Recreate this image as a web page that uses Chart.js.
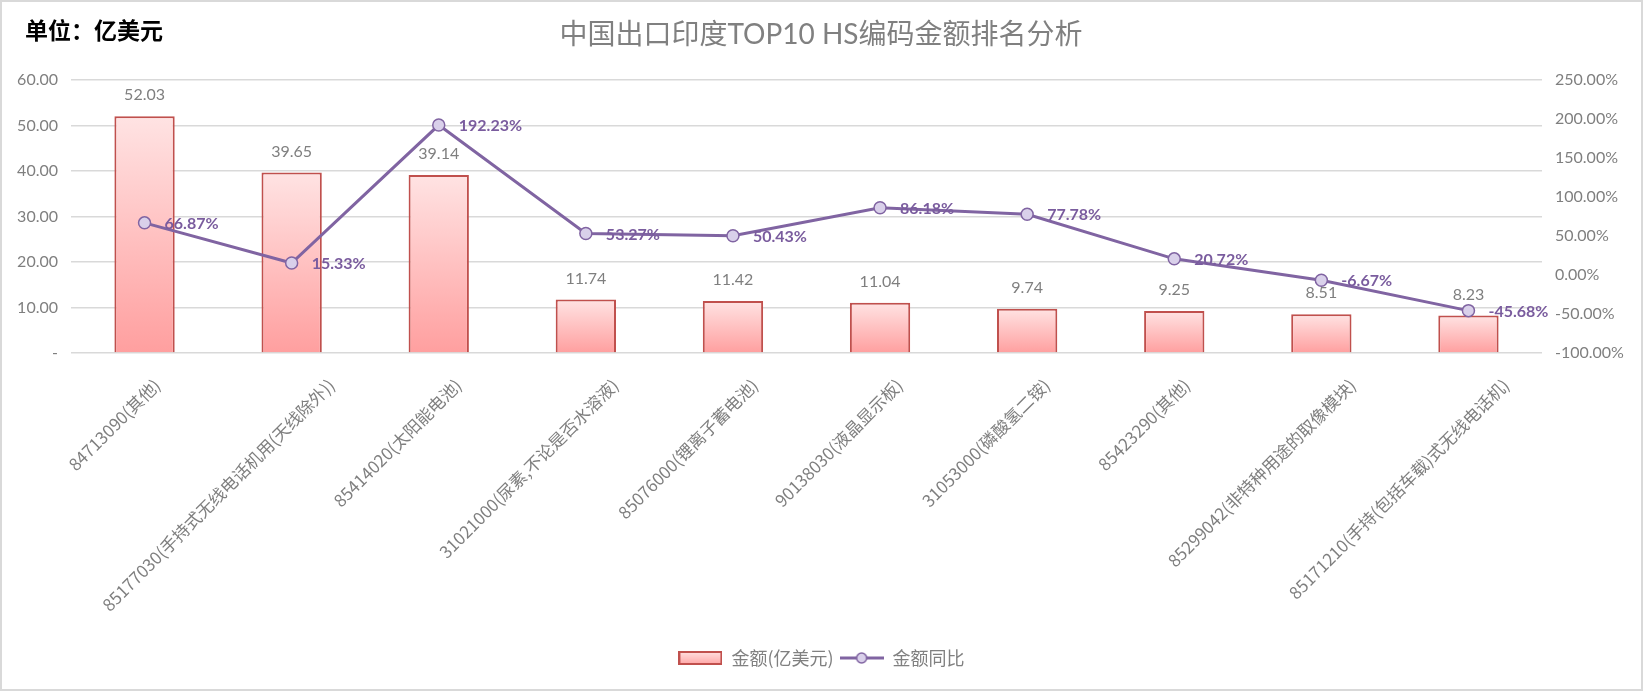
<!DOCTYPE html>
<html>
<head>
<meta charset="utf-8">
<title>中国出口印度TOP10 HS编码金额排名分析</title>
<script src="https://cdn.jsdelivr.net/npm/chart.js@4.4.0/dist/chart.umd.min.js"></script>
<style>
  html, body { margin: 0; padding: 0; background: #fff; }
  canvas { display: block; }
</style>
</head>
<body>
<canvas id="chart" width="1643" height="691"></canvas>
<script>
const categories = [
  '84713090(其他)',
  '85177030(手持式无线电话机用(天线除外))',
  '85414020(太阳能电池)',
  '31021000(尿素,不论是否水溶液)',
  '85076000(锂离子蓄电池)',
  '90138030(液晶显示板)',
  '31053000(磷酸氢二铵)',
  '85423290(其他)',
  '85299042(非特种用途的取像模块)',
  '85171210(手持(包括车载)式无线电话机)'
];
const amounts = [52.03, 39.65, 39.14, 11.74, 11.42, 11.04, 9.74, 9.25, 8.51, 8.23];
const growth = [66.87, 15.33, 192.23, 53.27, 50.43, 86.18, 77.78, 20.72, -6.67, -45.68];

const chartTitle = '中国出口印度TOP10 HS编码金额排名分析';
const unitText = '单位：亿美元';

const FONT = 'Lato, "Noto Sans CJK SC", sans-serif';
const CJK = '"Noto Sans CJK SC", sans-serif';
const GREY = '#7f7f7f';
const PURPLE = '#8064a2';

// legend icons
const barIcon = document.createElement('canvas');
barIcon.width = 44; barIcon.height = 14;
(() => {
  const c = barIcon.getContext('2d');
  const g = c.createLinearGradient(0, 0, 0, 14);
  g.addColorStop(0, '#ffe3e3');
  g.addColorStop(1, '#ffa3a3');
  c.fillStyle = g;
  c.fillRect(1, 1, 42, 12);
  c.strokeStyle = '#c0504d';
  c.lineWidth = 2;
  c.strokeRect(1, 1, 42, 12);
})();
const lineIcon = document.createElement('canvas');
lineIcon.width = 44; lineIcon.height = 14;
(() => {
  const c = lineIcon.getContext('2d');
  c.strokeStyle = PURPLE;
  c.lineWidth = 3;
  c.beginPath(); c.moveTo(0, 7); c.lineTo(44, 7); c.stroke();
  c.fillStyle = '#d9d0ea';
  c.lineWidth = 1.5;
  c.beginPath(); c.arc(22, 7, 5, 0, Math.PI * 2); c.fill(); c.stroke();
})();

const frame = {
  id: 'frame',
  beforeDraw(chart) {
    const c = chart.ctx;
    c.save();
    c.fillStyle = '#fff';
    c.fillRect(0, 0, chart.width, chart.height);
    c.strokeStyle = '#d9d9d9';
    c.lineWidth = 2;
    c.strokeRect(1, 1, chart.width - 2, chart.height - 2);
    c.fillStyle = '#000';
    c.font = 'bold 23px ' + CJK;
    c.textBaseline = 'middle';
    c.fillText(unitText, 25, 30);
    c.fillStyle = '#808080';
    c.font = '28px ' + FONT;
    c.textAlign = 'center';
    c.fillText(chartTitle, 821, 35);
    c.restore();
  }
};

// category labels, rotated 45°, anchored like the original (longer labels sit further right)
const xLabels = {
  id: 'xLabels',
  afterDraw(chart) {
    const c = chart.ctx;
    const xs = chart.scales.x;
    c.save();
    c.font = '17px ' + CJK;
    c.fillStyle = GREY;
    c.textAlign = 'right';
    c.textBaseline = 'middle';
    categories.forEach((label, i) => {
      const w = c.measureText(label).width;
      const x = xs.getPixelForTick(i) + 0.137 * w - 4;
      c.save();
      c.translate(x, xs.top + 29);
      c.rotate(-Math.PI / 4);
      c.fillText(label, 0, 0);
      c.restore();
    });
    c.restore();
  }
};

const valueLabels = {
  id: 'valueLabels',
  afterDatasetsDraw(chart) {
    const c = chart.ctx;
    c.save();
    c.textBaseline = 'middle';
    c.font = '16px ' + FONT;
    c.fillStyle = GREY;
    c.textAlign = 'center';
    chart.getDatasetMeta(0).data.forEach((bar, i) => {
      c.fillText(amounts[i].toFixed(2), bar.x, bar.y - 21);
    });
    c.font = 'bold 16px ' + FONT;
    c.fillStyle = '#7a5c9e';
    c.textAlign = 'left';
    chart.getDatasetMeta(1).data.forEach((pt, i) => {
      c.fillText(growth[i].toFixed(2) + '%', pt.x + 20, pt.y + 1);
    });
    c.restore();
  }
};

new Chart(document.getElementById('chart'), {
  data: {
    labels: categories,
    datasets: [
      {
        type: 'bar',
        label: '金额(亿美元)',
        data: amounts,
        yAxisID: 'y',
        order: 1,
        backgroundColor: (ctx) => {
          const chart = ctx.chart;
          if (!chart.chartArea || ctx.type !== 'data') return '#ffb8b8';
          const ys = chart.scales.y;
          const top = ys.getPixelForValue(ctx.raw);
          const bottom = ys.getPixelForValue(0);
          const g = chart.ctx.createLinearGradient(0, top, 0, bottom);
          g.addColorStop(0, '#ffe3e3');
          g.addColorStop(1, '#ff9f9f');
          return g;
        },
        borderColor: '#c0504d',
        borderWidth: 2,
        categoryPercentage: 1,
        barPercentage: 0.41
      },
      {
        type: 'line',
        label: '金额同比',
        data: growth,
        yAxisID: 'y2',
        order: 0,
        borderColor: PURPLE,
        borderWidth: 3,
        tension: 0,
        pointRadius: 6,
        pointBorderWidth: 1.5,
        pointBackgroundColor: '#d9d0ea',
        pointBorderColor: PURPLE
      }
    ]
  },
  options: {
    responsive: false,
    animation: false,
    devicePixelRatio: 1,
    layout: { padding: { top: 80, bottom: 14, left: 0, right: 0 } },
    plugins: {
      title: { display: false },
      tooltip: { enabled: false },
      legend: {
        position: 'bottom',
        labels: {
          color: '#808080',
          font: { size: 18, family: CJK },
          usePointStyle: true,
          pointStyleWidth: 44,
          padding: 6,
          generateLabels(chart) {
            const items = Chart.defaults.plugins.legend.labels.generateLabels(chart);
            items.sort((a, b) => a.datasetIndex - b.datasetIndex);
            items.forEach((it) => {
              it.pointStyle = it.datasetIndex === 0 ? barIcon : lineIcon;
            });
            return items;
          }
        }
      }
    },
    scales: {
      x: {
        grid: { display: false },
        border: { display: false },
        ticks: { display: false },
        afterFit(scale) { scale.height = 290; }
      },
      y: {
        position: 'left',
        min: 0,
        max: 60,
        ticks: {
          stepSize: 10,
          color: GREY,
          font: { size: 16, family: FONT },
          padding: 13,
          callback: (v) => (v === 0 ? '-' : v.toFixed(2))
        },
        grid: { color: '#d9d9d9', lineWidth: 1.5, drawTicks: false },
        border: { display: false },
        afterFit(scale) { scale.width = 71; }
      },
      y2: {
        position: 'right',
        min: -100,
        max: 250,
        ticks: {
          stepSize: 50,
          color: GREY,
          font: { size: 16, family: FONT },
          padding: 13,
          callback: (v) => v.toFixed(2) + '%'
        },
        grid: { display: false, drawTicks: false },
        border: { display: false },
        afterFit(scale) { scale.width = 101; }
      }
    }
  },
  plugins: [frame, valueLabels, xLabels]
});
</script>
</body>
</html>
